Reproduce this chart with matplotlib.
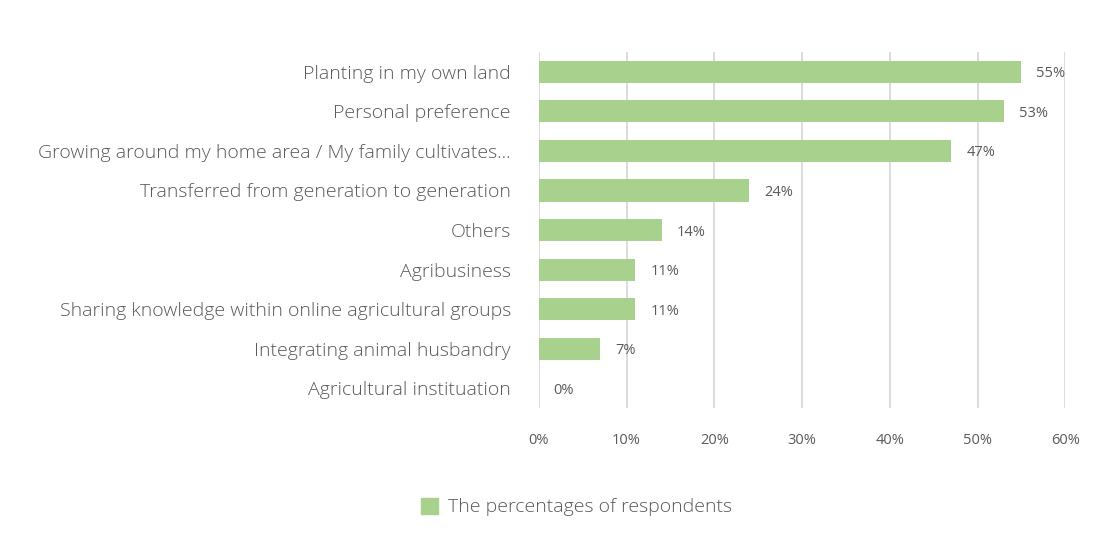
import matplotlib.pyplot as plt
import numpy as np

categories = [
    "Planting in my own land",
    "Personal preference",
    "Growing around my home area / My family cultivates...",
    "Transferred from generation to generation",
    "Others",
    "Agribusiness",
    "Sharing knowledge within online agricultural groups",
    "Integrating animal husbandry",
    "Agricultural instituation",
]
values = [55, 53, 47, 24, 14, 11, 11, 7, 0]
xticks = [0, 10, 20, 30, 40, 50, 60]
series_name = "The percentages of respondents"

BAR = "#A9D18E"
TEXT = "#595959"
GRID = "#D9D9D9"

plt.rcParams["font.family"] = ["Open Sans", "DejaVu Sans"]

fig = plt.figure(figsize=(11.04, 5.59), dpi=100)
ax = fig.add_axes([0.488, 0.27, 0.477, 0.637])

y = np.arange(len(categories))
ax.barh(y, values, height=0.56, color=BAR, zorder=2)
for yi, v in zip(y, values):
    ax.text(v + 1.7, yi + 0.05, f"{v}%", va="center", ha="left",
            fontsize=10.5, color=TEXT)

ax.set_ylim(len(categories) - 0.5, -0.5)
ax.set_xlim(0, 60)
ax.set_yticks(y)
ax.set_yticklabels(categories, fontsize=14, color=TEXT, fontweight="light")
ax.set_xticks(xticks)
ax.set_xticklabels([f"{t}%" for t in xticks], fontsize=10.5, color=TEXT)
ax.tick_params(axis="y", length=0, pad=20)
ax.tick_params(axis="x", length=0, pad=18)
ax.grid(axis="x", color=GRID, linewidth=1.3, zorder=0)
for s in ax.spines.values():
    s.set_visible(False)

handle = plt.Rectangle((0, 0), 1, 1, color=BAR)
fig.legend([handle], [series_name], loc="center", bbox_to_anchor=(0.522, 0.093),
           frameon=False, handlelength=0.9, handleheight=0.9,
           handletextpad=0.5, labelcolor=TEXT,
           prop={"weight": "light", "size": 14})

fig.savefig("out.png", dpi=100)
